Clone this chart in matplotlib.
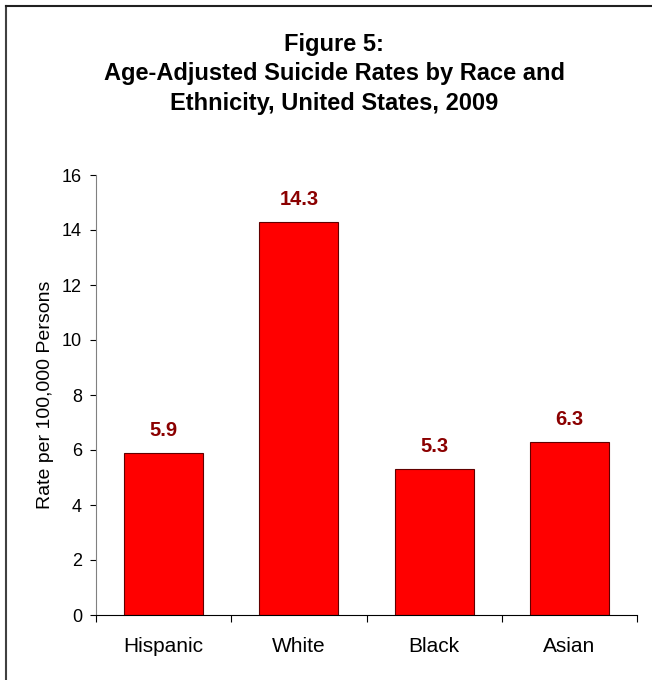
import matplotlib
matplotlib.use("Agg")
import matplotlib.pyplot as plt
from matplotlib.lines import Line2D

categories = ["Hispanic", "White", "Black", "Asian"]
rates = [5.9, 14.3, 5.3, 6.3]
yticks = [0, 2, 4, 6, 8, 10, 12, 14, 16]
title = "Figure 5:\nAge-Adjusted Suicide Rates by Race and\nEthnicity, United States, 2009"
ylabel = "Rate per 100,000 Persons"

plt.rcParams['font.family'] = ['Liberation Sans', 'DejaVu Sans']

fig = plt.figure(figsize=(6.52, 6.8), dpi=100)
ax = fig.add_axes([96/652, 1-615/680, (637-96)/652, (615-175)/680])

x = list(range(len(categories)))
ax.bar(x, rates, width=0.585, color="#FF0000", edgecolor="#600000", linewidth=0.8)
for xi, v in zip(x, rates):
    ax.annotate(f"{v:.1f}", (xi, v), xytext=(0, 12.2), textcoords="offset points",
                ha="center", va="baseline", fontsize=14.5, fontweight="bold", color="#8B0000")

ax.set_xlim(-0.5, len(categories) - 0.5)
ax.set_ylim(0, 16)
ax.set_yticks(yticks)
ax.set_yticklabels([str(t) for t in yticks], fontsize=13)
ax.set_xticks(x)
ax.set_xticklabels(categories, fontsize=15)
ax.tick_params(axis='x', length=0, pad=16)
ax.tick_params(axis='y', length=4, width=0.8, direction='out', pad=6, colors='#000000')
# boundary ticks between categories
ax.set_xticks([i - 0.5 for i in range(len(categories) + 1)], minor=True)
ax.tick_params(axis='x', which='minor', length=5, width=0.8, direction='out')
for s in ["top", "right"]:
    ax.spines[s].set_visible(False)
ax.spines["left"].set_color("#808080")
ax.spines["bottom"].set_color("#000000")
ax.set_ylabel(ylabel, fontsize=14, labelpad=5.5)

fig.text(334/652, 1-32.5/680, title, ha="center", va="top", fontsize=17,
         fontweight="bold", linespacing=1.38)

# outer frame (left and top visible)
fig.add_artist(Line2D([6/652, 6/652], [0, 1-6/680], transform=fig.transFigure, color="#404040", lw=1.5))
fig.add_artist(Line2D([6/652, 1], [1-6/680, 1-6/680], transform=fig.transFigure, color="#202020", lw=1.5))

fig.savefig("out.png", dpi=100)
